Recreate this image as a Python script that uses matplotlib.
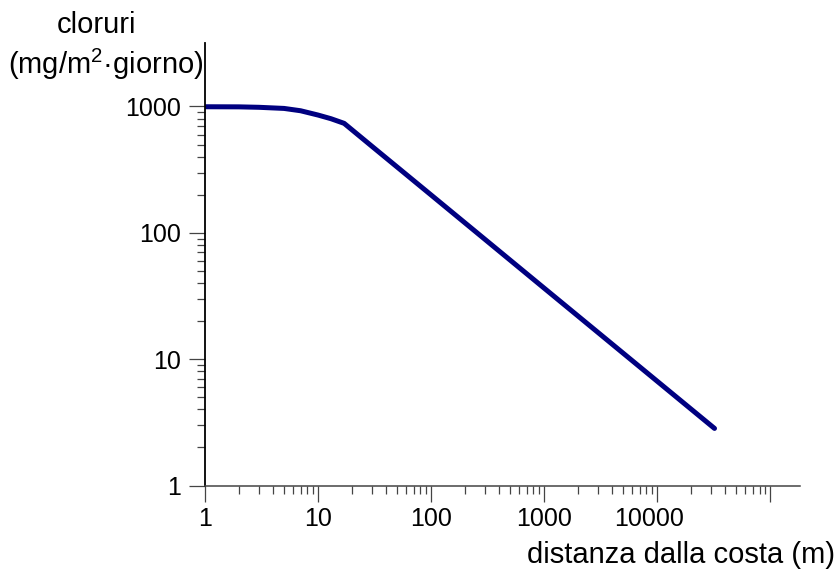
import numpy as np
import matplotlib
matplotlib.use("Agg")
import matplotlib.pyplot as plt
from matplotlib.ticker import FixedLocator, NullFormatter
import matplotlib.transforms as mtransforms

plt.rcParams['font.family'] = ['Liberation Sans', 'DejaVu Sans']
plt.rcParams['mathtext.fontset'] = 'custom'
plt.rcParams['mathtext.rm'] = 'Liberation Sans'
plt.rcParams['mathtext.it'] = 'Liberation Sans'

# data
distanza = [1, 2, 3, 5, 7, 10, 13, 17, 30, 100, 300, 1000, 3000, 10000, 32000]
cloruri = [995, 993, 985, 965, 925, 855, 800, 735, 483, 199, 88.5, 36.4, 16.2, 6.67, 2.83]

x_ticks = [1, 10, 100, 1000, 10000, 100000]
x_labels = ['1', '10', '100', '1000', '10000', '']
y_ticks = [1, 10, 100, 1000]
y_labels = ['1', '10', '100', '1000']

fig = plt.figure(figsize=(8.39, 5.74), dpi=100)
ax = fig.add_axes([205/839, 1 - 485.5/574, 595/839, 442.2/574])

ax.plot(distanza, cloruri, color='#000080', linewidth=3.6, solid_capstyle='round')

ax.set_xscale('log')
ax.set_yscale('log')
ax.set_xlim(1, 10**5.261)
ax.set_ylim(1, 10**3.5)

for s in ['top', 'right']:
    ax.spines[s].set_visible(False)
ax.spines['left'].set_linewidth(1.3)
ax.spines['bottom'].set_linewidth(1.1)
ax.spines['bottom'].set_color('#444444')

x_minor = [m * 10**d for d in range(5) for m in range(2, 10)]
y_minor = [m * 10**d for d in range(3) for m in range(2, 10)]
ax.xaxis.set_major_locator(FixedLocator(x_ticks))
ax.xaxis.set_minor_locator(FixedLocator(x_minor))
ax.yaxis.set_major_locator(FixedLocator(y_ticks))
ax.yaxis.set_minor_locator(FixedLocator(y_minor))
ax.set_xticklabels(x_labels)
ax.set_yticklabels(y_labels)
ax.xaxis.set_minor_formatter(NullFormatter())
ax.yaxis.set_minor_formatter(NullFormatter())

ax.tick_params(which='major', direction='out', length=11.5, width=0.9,
               color='#444444', labelsize=18)
ax.tick_params(which='minor', direction='out', length=6, width=0.9, color='#444444')
ax.tick_params(axis='x', which='major', pad=4)
ax.tick_params(axis='y', which='major', pad=6)

# the 10000 label sits a bit to the left of its tick
shift = mtransforms.ScaledTranslation(-8/100, 0, fig.dpi_scale_trans)
for lab in ax.get_xticklabels():
    if lab.get_text() == '10000':
        lab.set_transform(lab.get_transform() + shift)

fig.text(97/839, 1 - 33/574, 'cloruri', ha='center', va='baseline', fontsize=21)
fig.text(106/839, 1 - 74/574, r'(mg/m$^{2}$·giorno)', ha='center', va='baseline', fontsize=21)
fig.text(835/839, 1 - 563/574, 'distanza dalla costa (m)', ha='right', va='baseline', fontsize=21)

fig.savefig('out.png', dpi=100)
